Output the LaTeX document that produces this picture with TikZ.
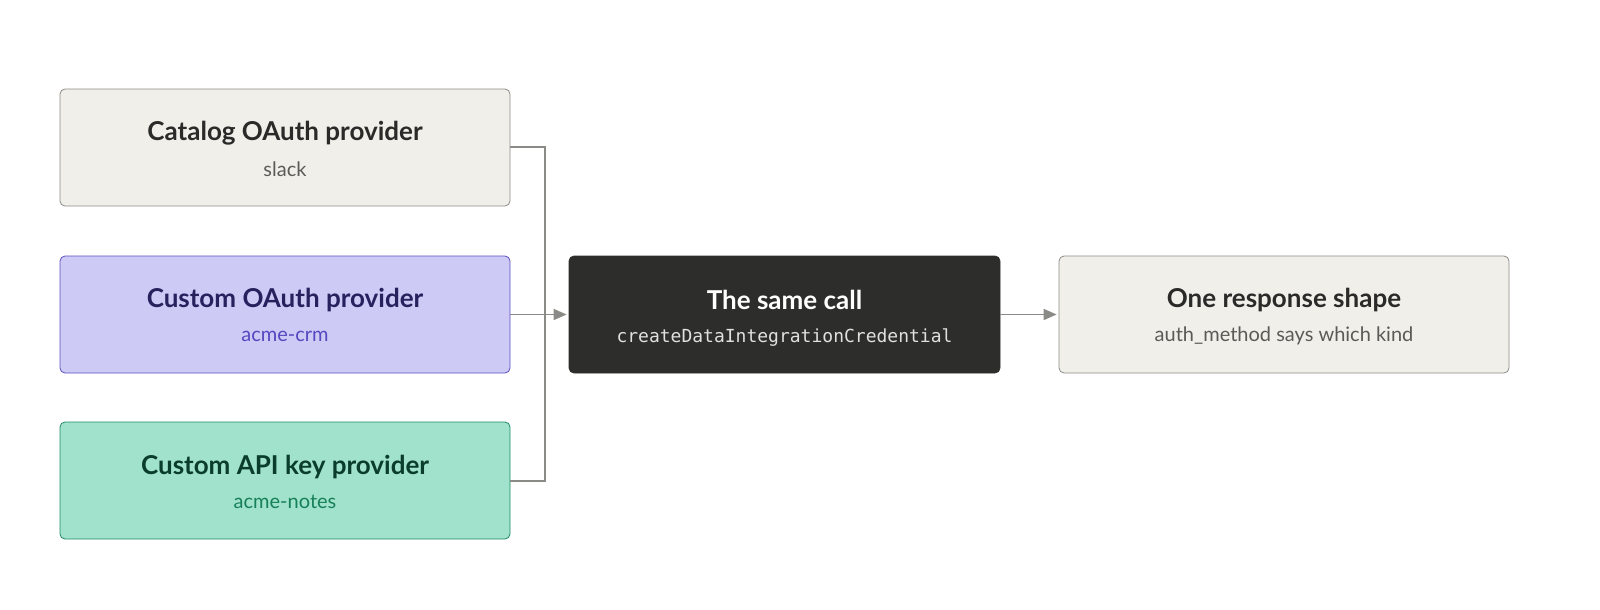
\documentclass[tikz,border=0pt]{standalone}
\usepackage{fontspec}
\setmainfont{Lato}
\setmonofont{DejaVu Sans Mono}
\usetikzlibrary{arrows.meta}
\definecolor{gfill}{HTML}{F0EFEA}
\definecolor{gline}{HTML}{8C8B86}
\definecolor{gtitle}{HTML}{2A2A28}
\definecolor{gsub}{HTML}{5A5A57}
\definecolor{pfill}{HTML}{CDCAF5}
\definecolor{pline}{HTML}{5A4FC0}
\definecolor{ptitle}{HTML}{27215E}
\definecolor{psub}{HTML}{5548C0}
\definecolor{tfill}{HTML}{A0E2CB}
\definecolor{tline}{HTML}{1F8A63}
\definecolor{ttitle}{HTML}{0B3D2C}
\definecolor{tsub}{HTML}{17805A}
\definecolor{dfill}{HTML}{2D2D2B}
\definecolor{arr}{HTML}{8A8A87}
\begin{document}
\begin{tikzpicture}[x=1pt,y=-1pt,
 box/.style={draw, rounded corners=5pt, line width=0.8pt, minimum width=450pt, minimum height=117pt, inner sep=0pt, align=center},
 ttl/.style={font=\bfseries\fontsize{26}{30}\selectfont},
 sub/.style={font=\fontsize{20}{24}\selectfont},
 conn/.style={draw=arr, line width=1.6pt},
 tip/.style={-{Triangle[length=13pt,width=11pt]}}]
\useasboundingbox (0,0) rectangle (1600,610);
\node[box, fill=gfill, draw=gline] (a) at (285,147.5) {};
\node[ttl, text=gtitle] at (285,133) {Catalog OAuth provider};
\node[sub, text=gsub] at (285,169) {slack};
\node[box, fill=pfill, draw=pline] (b) at (285,314.5) {};
\node[ttl, text=ptitle] at (285,300) {Custom OAuth provider};
\node[sub, text=psub] at (285,336) {acme-crm};
\node[box, fill=tfill, draw=tline] (c) at (285,480.5) {};
\node[ttl, text=ttitle] at (285,467) {Custom API key provider};
\node[sub, text=tsub] at (285,502) {acme-notes};
\node[box, fill=dfill, draw=dfill, minimum width=431pt] (m) at (784.5,314.5) {};
\node[ttl, text=white] at (784.5,300) {The same call};
\node[font=\ttfamily\fontsize{18}{22}\selectfont, text=white!88!black] at (784.5,338) {createDataIntegrationCredential};
\node[box, fill=gfill, draw=gline] (r) at (1284,314.5) {};
\node[ttl, text=gtitle] at (1284,300) {One response shape};
\node[sub, text=gsub] at (1284,336) {auth\_method says which kind};
\coordinate (j) at (545,314.5);
\draw[conn] (a.east |- 0,147) -| (j);
\draw[conn] (c.east |- 0,481) -| (j);
\draw[conn] (b.east) -- (j);
\draw[conn, tip] (j) -- ([xshift=-2pt]m.west);
\draw[conn, tip] (m.east) -- ([xshift=-2pt]r.west);
\end{tikzpicture}
\end{document}
